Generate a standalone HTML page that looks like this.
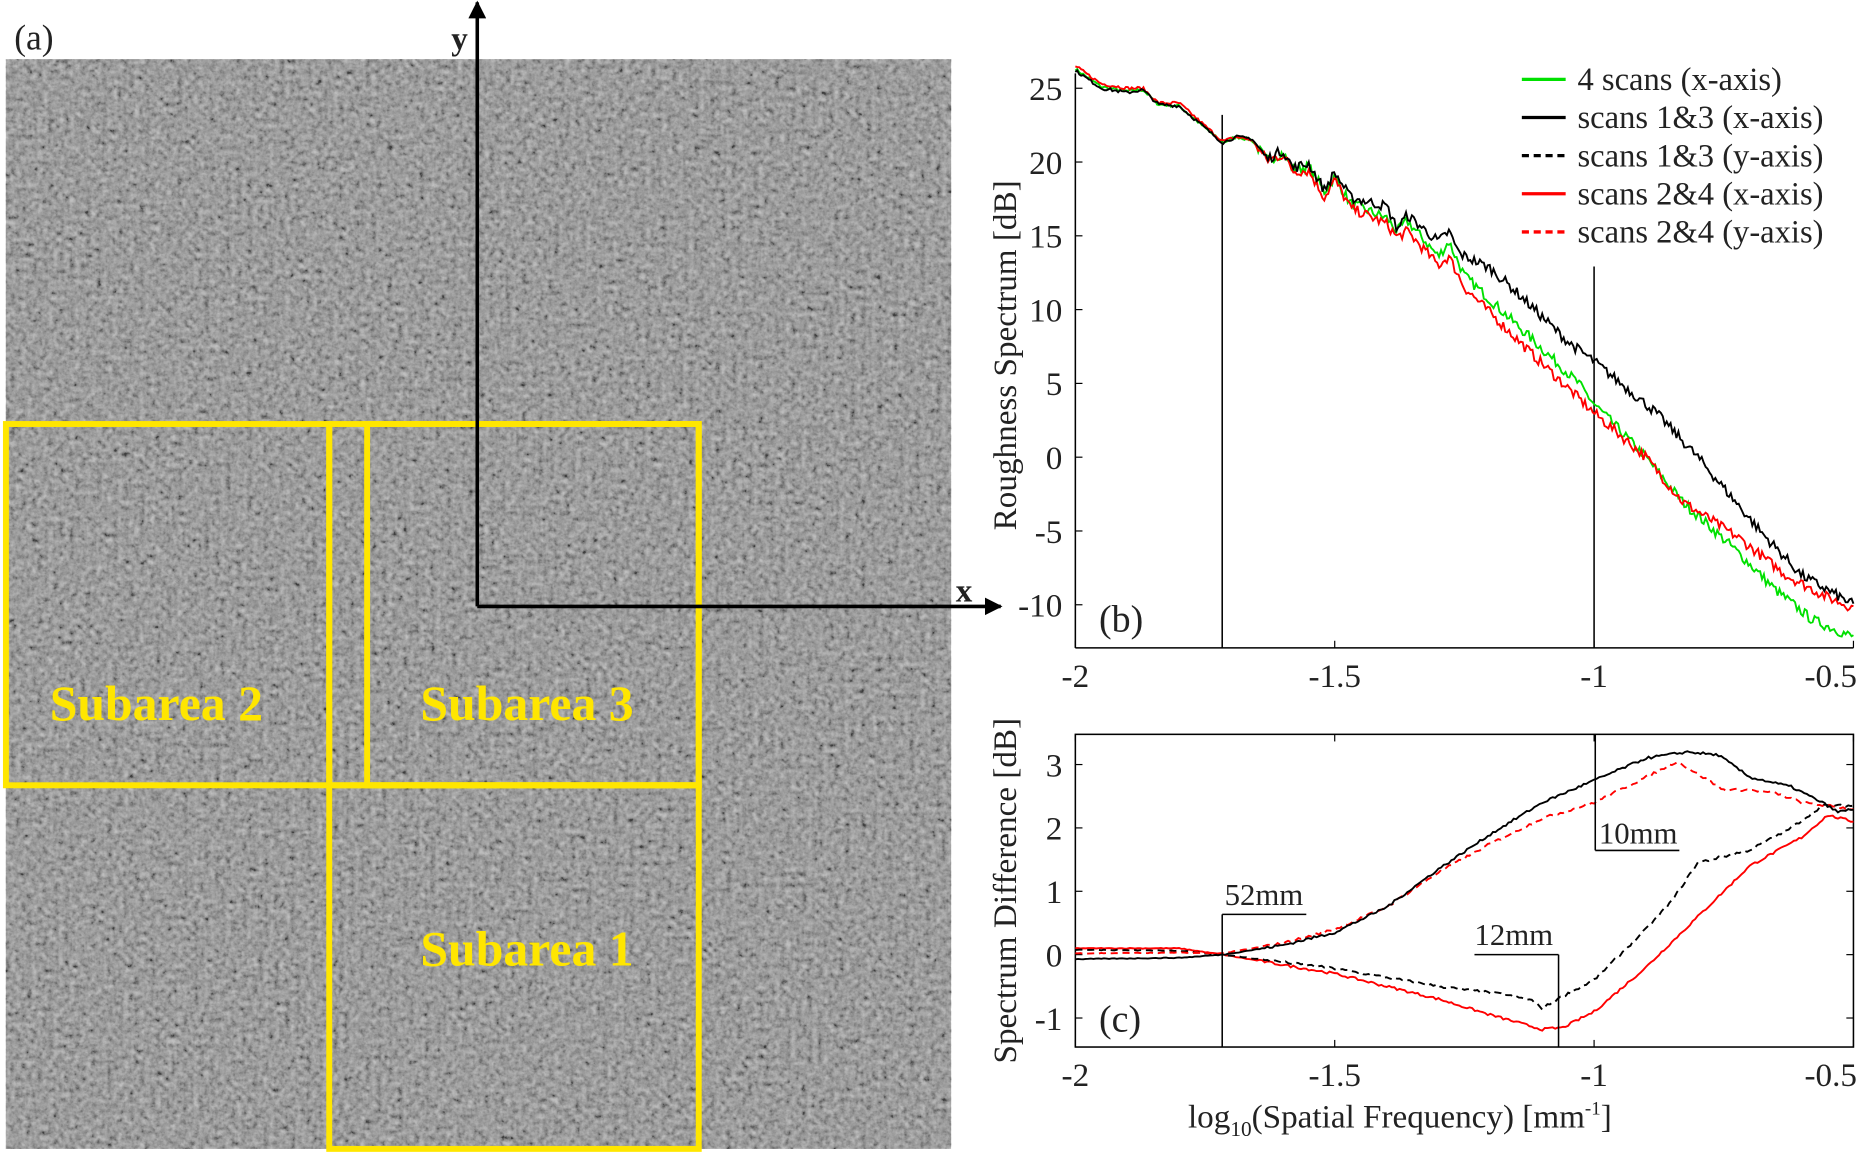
<!DOCTYPE html>
<html><head><meta charset="utf-8"><style>
html,body{margin:0;padding:0;background:#fff;}
svg{display:block;}
text{font-family:"Liberation Serif",serif;fill:#222;}
</style></head><body>
<svg id="s" width="1857" height="1156" viewBox="0 0 1568 976" preserveAspectRatio="none" xmlns="http://www.w3.org/2000/svg">
<defs>
<filter id="tx" x="0" y="0" width="100%" height="100%">
<feTurbulence type="fractalNoise" baseFrequency="0.22" numOctaves="3" seed="3"/>
<feColorMatrix type="matrix" values="0.33 0.33 0.33 0 0  0.33 0.33 0.33 0 0  0.33 0.33 0.33 0 0  0 0 0 0 1"/>
<feComponentTransfer><feFuncR type="linear" slope="2.2" intercept="-0.6"/><feFuncG type="linear" slope="2.2" intercept="-0.6"/><feFuncB type="linear" slope="2.2" intercept="-0.6"/></feComponentTransfer>
</filter>
<marker id="ar" viewBox="0 0 10 10" refX="9" refY="5" markerWidth="5" markerHeight="5" orient="auto"><path d="M0,0L10,5L0,10z" fill="#000"/></marker>
</defs>
<rect x="0" y="0" width="1568" height="976" fill="#fff"/>
<rect x="5" y="50" width="798" height="920" fill="#7e7e7e"/>
<rect x="5" y="50" width="798" height="920" filter="url(#tx)" opacity="0.5"/>
<text x="12" y="42" font-size="30">(a)</text>
<g stroke="#ffe600" stroke-width="5" fill="none">
<rect x="5" y="358" width="273" height="305"/>
<rect x="310" y="358" width="280" height="305"/>
<rect x="278" y="358" width="312" height="305"/>
<rect x="278" y="663" width="312" height="307"/>
</g>
<g font-size="42" font-weight="bold" text-anchor="middle">
<text x="132" y="608" style="fill:#ffe600">Subarea 2</text>
<text x="445" y="608" style="fill:#ffe600">Subarea 3</text>
<text x="445" y="815" style="fill:#ffe600">Subarea 1</text>
</g>
<line x1="403" y1="512" x2="403" y2="2" stroke="#000" stroke-width="3" marker-end="url(#ar)"/>
<line x1="403" y1="512" x2="845" y2="512" stroke="#000" stroke-width="3" marker-end="url(#ar)"/>
<text x="381" y="42" font-size="28" font-weight="bold">y</text>
<text x="807" y="508" font-size="28" font-weight="bold">x</text>
<g id="pb"></g>
<g id="pc"></g>
</svg>
<script>
var NS="http://www.w3.org/2000/svg";
function el(p,t,a,txt){var e=document.createElementNS(NS,t);for(var k in a)e.setAttribute(k,a[k]);if(txt!==undefined)e.textContent=txt;p.appendChild(e);return e;}
var seed=7;function rnd(){seed=(seed*16807)%2147483647;return seed/2147483647-0.5;}
function interp(pts,x){for(var i=0;i<pts.length-1;i++){if(x<=pts[i+1][0]){var t=(x-pts[i][0])/(pts[i+1][0]-pts[i][0]);return pts[i][1]+t*(pts[i+1][1]-pts[i][1]);}}return pts[pts.length-1][1];}
function curve(g,pts,X,Y,col,noise,dash,n){var d="";var N=n||500;for(var i=0;i<=N;i++){var x=-2+1.5*i/N;var v=interp(pts,x);var amp=noise*(x>-1.65?1:0.3);v+=rnd()*amp;d+=(d?"L":"M")+X(x).toFixed(1)+","+Y(v).toFixed(1);}var a={d:d,stroke:col,"stroke-width":1.6,fill:"none"};if(dash)a["stroke-dasharray"]="6,4";el(g,"path",a);}
var pb=document.getElementById("pb");
var Xb=function(x){return 908+(x+2)*438;};var Yb=function(v){return 386-v*12.46;};
el(pb,"line",{x1:908,y1:62,x2:908,y2:547,stroke:"#000","stroke-width":1.3});
el(pb,"line",{x1:908,y1:547,x2:1565,y2:547,stroke:"#000","stroke-width":1.3});
[-10,-5,0,5,10,15,20,25].forEach(function(v){el(pb,"line",{x1:908,y1:Yb(v),x2:914,y2:Yb(v),stroke:"#000"});el(pb,"text",{x:897,y:Yb(v)+10,"font-size":28,"text-anchor":"end"},String(v));});
[[-2,"-2","middle"],[-1.5,"-1.5","middle"],[-1,"-1","middle"],[-0.5,"-0.5","end"]].forEach(function(t){el(pb,"line",{x1:Xb(t[0]),y1:547,x2:Xb(t[0]),y2:541,stroke:"#000"});el(pb,"text",{x:t[2]=="end"?1568:Xb(t[0]),y:580,"font-size":28,"text-anchor":t[2]},t[1]);});
el(pb,"text",{x:0,y:0,"font-size":28,"text-anchor":"middle",transform:"translate(858,300) rotate(-90)"},"Roughness Spectrum [dB]");
el(pb,"text",{x:928,y:533,"font-size":32},"(b)");
el(pb,"line",{x1:1032,y1:97,x2:1032,y2:547,stroke:"#000","stroke-width":1.3});
el(pb,"line",{x1:1346,y1:225,x2:1346,y2:547,stroke:"#000","stroke-width":1.3});
var blk=[[-2,26.2],[-1.95,25],[-1.9,24.7],[-1.87,24.9],[-1.84,23.9],[-1.8,23.8],[-1.716,21.3],[-1.69,21.7],[-1.66,21.6],[-1.63,20.2],[-1.6,20.8],[-1.58,19.6],[-1.55,19.9],[-1.52,18.1],[-1.5,19.3],[-1.47,17.6],[-1.4,17],[-1.38,15.5],[-1.36,16.4],[-1.3,14.6],[-1.28,15.3],[-1.26,13.8],[-1.2,12.8],[-1.15,11.2],[-1.05,7.8],[-1,6.5],[-0.88,3],[-0.8,0],[-0.68,-5],[-0.6,-8],[-0.5,-10]];
var grn=[[-2,26.3],[-1.95,25.1],[-1.9,24.8],[-1.87,24.9],[-1.84,23.9],[-1.8,23.8],[-1.716,21.3],[-1.69,21.7],[-1.66,21.5],[-1.63,20.1],[-1.6,20.6],[-1.58,19.5],[-1.55,19.7],[-1.52,18],[-1.5,19],[-1.47,17.2],[-1.4,16.2],[-1.38,15.3],[-1.36,16],[-1.3,13.6],[-1.28,14.6],[-1.25,12.3],[-1.12,8],[-1.03,5],[-1,3.6],[-0.9,0],[-0.83,-3],[-0.73,-6.2],[-0.65,-9],[-0.58,-11],[-0.5,-12.2]];
var red=[[-2,26.5],[-1.95,25.3],[-1.9,25],[-1.87,25],[-1.84,24],[-1.8,24],[-1.716,21.4],[-1.69,21.7],[-1.66,21.5],[-1.63,20.1],[-1.6,20.5],[-1.58,19.4],[-1.55,19.4],[-1.52,17.6],[-1.5,18.8],[-1.47,16.9],[-1.4,15.8],[-1.38,14.9],[-1.36,15.3],[-1.3,13],[-1.28,13.6],[-1.25,11.5],[-1.12,7],[-1.03,4],[-1,3],[-0.9,0],[-0.83,-3],[-0.72,-5.5],[-0.63,-8],[-0.55,-9.5],[-0.5,-10.2]];
curve(pb,grn,Xb,Yb,"#00e000",0.7,false,400);
curve(pb,red,Xb,Yb,"#ff0000",0.7,false,400);
curve(pb,blk,Xb,Yb,"#000",0.7,false,400);
var leg=[["4 scans (x-axis)","#00e000",0],["scans 1&3 (x-axis)","#000",0],["scans 1&3 (y-axis)","#000",1],["scans 2&4 (x-axis)","#ff0000",0],["scans 2&4 (y-axis)","#ff0000",1]];
leg.forEach(function(l,i){var y=67+i*32.2;var a={x1:1285,y1:y,x2:1322,y2:y,stroke:l[1],"stroke-width":2.8};if(l[2])a["stroke-dasharray"]="6,4";el(pb,"line",a);el(pb,"text",{x:1332,y:y+9,"font-size":27.5},l[0]);});
var pc=document.getElementById("pc");
var Xc=Xb;var Yc=function(v){return 806-v*53.5;};
el(pc,"rect",{x:908,y:620,width:657,height:264,fill:"none",stroke:"#000","stroke-width":1.3});
[-1,0,1,2,3].forEach(function(v){el(pc,"line",{x1:908,y1:Yc(v),x2:914,y2:Yc(v),stroke:"#000"});el(pc,"line",{x1:1565,y1:Yc(v),x2:1559,y2:Yc(v),stroke:"#000"});el(pc,"text",{x:897,y:Yc(v)+10,"font-size":28,"text-anchor":"end"},String(v));});
[[-2,"-2","middle"],[-1.5,"-1.5","middle"],[-1,"-1","middle"],[-0.5,"-0.5","end"]].forEach(function(t){el(pc,"line",{x1:Xc(t[0]),y1:884,x2:Xc(t[0]),y2:878,stroke:"#000"});el(pc,"line",{x1:Xc(t[0]),y1:620,x2:Xc(t[0]),y2:626,stroke:"#000"});el(pc,"text",{x:t[2]=="end"?1568:Xc(t[0]),y:917,"font-size":28,"text-anchor":t[2]},t[1]);});
el(pc,"text",{x:0,y:0,"font-size":28,"text-anchor":"middle",transform:"translate(858,752) rotate(-90)"},"Spectrum Difference [dB]");
var xl=el(pc,"text",{x:1182,y:952,"font-size":28,"text-anchor":"middle"});
xl.innerHTML='log<tspan font-size="18" dy="7">10</tspan><tspan dy="-7">(Spatial Frequency) [mm</tspan><tspan font-size="16" dy="-11">-1</tspan><tspan dy="11">]</tspan>';
el(pc,"text",{x:928,y:871,"font-size":32},"(c)");
var bs=[[-2,-0.07],[-1.8,-0.05],[-1.716,0],[-1.6,0.15],[-1.5,0.35],[-1.4,0.75],[-1.3,1.35],[-1.2,1.9],[-1.1,2.4],[-1,2.75],[-0.9,3.1],[-0.82,3.2],[-0.76,3.15],[-0.7,2.8],[-0.62,2.65],[-0.56,2.4],[-0.53,2.25],[-0.5,2.3]];
var rd=[[-2,0.02],[-1.8,0.03],[-1.716,0.02],[-1.6,0.18],[-1.5,0.4],[-1.4,0.75],[-1.3,1.3],[-1.2,1.75],[-1.1,2.15],[-1,2.4],[-0.9,2.8],[-0.84,3.05],[-0.75,2.6],[-0.7,2.6],[-0.65,2.55],[-0.6,2.4],[-0.5,2.3]];
var bd=[[-2,0.08],[-1.8,0.06],[-1.716,0],[-1.5,-0.22],[-1.3,-0.5],[-1.18,-0.62],[-1.12,-0.72],[-1.1,-0.85],[-1.07,-0.7],[-1,-0.4],[-0.95,0],[-0.9,0.4],[-0.85,0.85],[-0.8,1.45],[-0.7,1.65],[-0.62,2],[-0.56,2.35],[-0.5,2.35]];
var rs=[[-2,0.1],[-1.8,0.1],[-1.716,0],[-1.5,-0.3],[-1.3,-0.7],[-1.2,-0.95],[-1.1,-1.18],[-1.06,-1.15],[-1,-0.9],[-0.9,-0.2],[-0.8,0.6],[-0.7,1.4],[-0.6,1.85],[-0.55,2.2],[-0.5,2.1]];
curve(pc,rs,Xc,Yc,"#ff0000",0.04,false,300);
curve(pc,bd,Xc,Yc,"#000",0.04,true,300);
curve(pc,rd,Xc,Yc,"#ff0000",0.04,true,300);
curve(pc,bs,Xc,Yc,"#000",0.04,false,300);
function mark(x,yTop,yBot,hx1,hx2,hy,tx,ty,lab){el(pc,"line",{x1:x,y1:yTop,x2:x,y2:yBot,stroke:"#000","stroke-width":1.3});el(pc,"line",{x1:hx1,y1:hy,x2:hx2,y2:hy,stroke:"#000","stroke-width":1.3});el(pc,"text",{x:tx,y:ty,"font-size":26},lab);}
mark(1032,772,884,1032,1103,772,1034,764,"52mm");
mark(1316,806,884,1245,1316,806,1245,798,"12mm");
mark(1347,620,718,1347,1418,718,1350,712,"10mm");
</script>
</body></html>
